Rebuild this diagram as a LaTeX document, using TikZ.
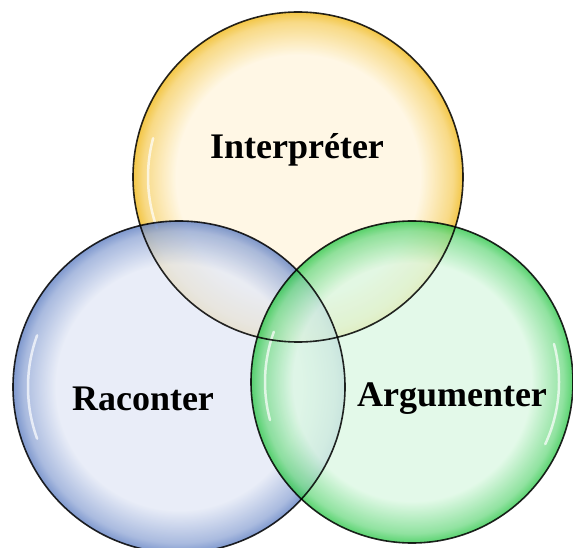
\documentclass[tikz,border=0pt]{standalone}
\usepackage{fontspec}
\setmainfont{Liberation Serif}

\definecolor{jauneclair}{HTML}{FFF5DE}
\definecolor{jaunefonce}{HTML}{F0B818}
\definecolor{bleuclair}{HTML}{E4E9F6}
\definecolor{bleufonce}{HTML}{5F7FC2}
\definecolor{vertclair}{HTML}{DCF8E3}
\definecolor{vertfonce}{HTML}{30C84C}

\pgfdeclareradialshading{bullejaune}{\pgfpointorigin}{color(0bp)=(jauneclair); color(18.5bp)=(jauneclair); color(23.5bp)=(jaunefonce!60!jauneclair); color(25bp)=(jaunefonce); color(50bp)=(jaunefonce)}
\pgfdeclareradialshading{bullebleue}{\pgfpointorigin}{color(0bp)=(bleuclair); color(18.5bp)=(bleuclair); color(23.5bp)=(bleufonce!60!bleuclair); color(25bp)=(bleufonce); color(50bp)=(bleufonce)}
\pgfdeclareradialshading{bulleverte}{\pgfpointorigin}{color(0bp)=(vertclair); color(18.5bp)=(vertclair); color(23.5bp)=(vertfonce!60!vertclair); color(25bp)=(vertfonce); color(50bp)=(vertfonce)}

\tikzset{
  bulle/.style={fill opacity=0.8},
  contour/.style={draw=black, line width=1.6pt, opacity=0.85},
  reflet/.style={white, line width=2.5pt, opacity=0.7, line cap=round},
  titre/.style={font=\fontsize{36}{40}\selectfont\bfseries, text=black}
}

\begin{document}
\begin{tikzpicture}[x=1pt,y=1pt]
        \useasboundingbox (0,0) rectangle (573,547);

        % Cercle Interpréter
        \shade[bulle, shading=bullejaune] (298,370) circle (165pt);
        \draw[reflet] (298,370) ++(165:150pt) arc[start angle=165, end angle=200, radius=150pt];

        % Cercle Raconter
        \shade[bulle, shading=bullebleue] (179,160) circle (166pt);
        \draw[reflet] (179,160) ++(160:151pt) arc[start angle=160, end angle=200, radius=151pt];

        % Cercle Argumenter
        \shade[bulle, shading=bulleverte] (412,165) circle (161pt);
        \draw[reflet] (412,165) ++(160:147pt) arc[start angle=160, end angle=195, radius=147pt];
        \draw[reflet] (412,165) ++(-25:147pt) arc[start angle=-25, end angle=15, radius=147pt];

        % Contours
        \draw[contour] (298,370) circle (165pt);
        \draw[contour] (179,160) circle (166pt);
        \draw[contour] (412,165) circle (161pt);

        % Textes
        \node[titre] (interp) at (297,397) {Interpréter};
        \node[titre] (racont) at (143,148) {Raconter};
        \node[titre] (argum) at (452,148) {Argumenter};

\end{tikzpicture}
\end{document}
